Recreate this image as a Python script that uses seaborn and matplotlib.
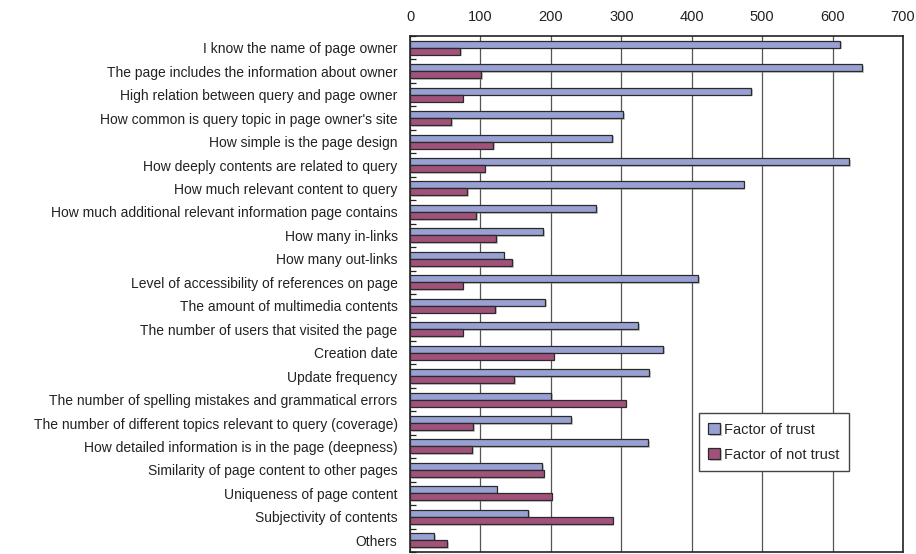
import matplotlib
matplotlib.use("Agg")
import matplotlib.pyplot as plt
import matplotlib.patheffects as pe
from matplotlib.ticker import FixedLocator
import seaborn as sns
import pandas as pd
import numpy as np

categories = [
    "I know the name of page owner",
    "The page includes the information about owner",
    "High relation between query and page owner",
    "How common is query topic in page owner's site",
    "How simple is the page design",
    "How deeply contents are related to query",
    "How much relevant content to query",
    "How much additional relevant information page contains",
    "How many in-links",
    "How many out-links",
    "Level of accessibility of references on page",
    "The amount of multimedia contents",
    "The number of users that visited the page",
    "Creation date",
    "Update frequency",
    "The number of spelling mistakes and grammatical errors",
    "The number of different topics relevant to query (coverage)",
    "How detailed information is in the page (deepness)",
    "Similarity of page content to other pages",
    "Uniqueness of page content",
    "Subjectivity of contents",
    "Others",
]
trust = [611, 642, 484, 303, 287, 624, 474, 264, 189, 133, 409, 192, 324,
         359, 340, 200, 229, 338, 188, 123, 168, 34]
not_trust = [71, 101, 75, 58, 118, 106, 81, 94, 122, 145, 75, 121, 75,
             204, 148, 306, 90, 88, 190, 201, 288, 53]
series_names = ["Factor of trust", "Factor of not trust"]
xticks = [0, 100, 200, 300, 400, 500, 600, 700]

df = pd.DataFrame({
    "category": categories * 2,
    "value": trust + not_trust,
    "series": [series_names[0]] * len(categories) + [series_names[1]] * len(categories),
})

sns.set_style("white")
plt.rcParams["font.family"] = ["Liberation Sans", "DejaVu Sans"]

fig = plt.figure(figsize=(9.16, 5.54), dpi=100)
ax = fig.add_axes([0.4476, 0.0036, 0.5382, 0.9314])

palette = {series_names[0]: "#99a1d3", series_names[1]: "#a0527b"}
sns.barplot(data=df, x="value", y="category", hue="series", order=categories,
            hue_order=series_names, palette=palette, orient="h", width=0.6,
            edgecolor="#2a2a2a", linewidth=0.9, saturation=1, ax=ax, zorder=3)

for p in ax.patches:
    p.set_path_effects([pe.SimplePatchShadow(offset=(1.2, -1.2), shadow_rgbFace="#888888", alpha=0.45), pe.Normal()])

ax.set_xlim(0, 700)
ax.set_ylim(len(categories) - 0.5, -0.5)
ax.xaxis.tick_top()
ax.set_xticks(xticks)
ax.set_xticklabels([str(t) for t in xticks])
ax.tick_params(axis="x", length=0, pad=9, labelsize=10.5, colors="#222222")
ax.tick_params(axis="y", which="major", length=0, pad=9, labelsize=10, colors="#222222")
ax.yaxis.set_minor_locator(FixedLocator(np.arange(-0.5, len(categories), 1.0)))
ax.tick_params(axis="y", which="minor", direction="in", length=4, width=0.9, color="#222222", left=True)
ax.set_xlabel("")
ax.set_ylabel("")
ax.grid(axis="x", color="#555555", linewidth=0.9, zorder=0)
ax.set_axisbelow(True)
for s in ax.spines.values():
    s.set_color("#222222")
    s.set_linewidth(1.2)

ax.legend(loc="lower left", bbox_to_anchor=(0.586, 0.157), borderaxespad=0,
          fontsize=10.5, frameon=True, fancybox=False, edgecolor="#444444",
          framealpha=1, handlelength=0.8, handleheight=0.8, handletextpad=0.3,
          labelspacing=0.75, borderpad=0.65, title=None)
leg = ax.get_legend()
leg.get_frame().set_linewidth(1.0)
leg.set_zorder(5)

fig.savefig("out.png", dpi=100)
